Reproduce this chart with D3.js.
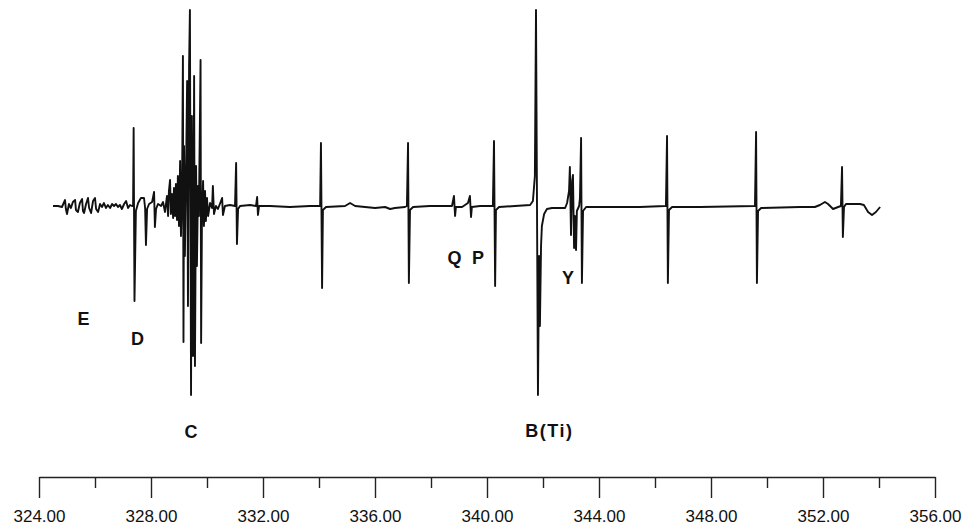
<!DOCTYPE html>
<html>
<head>
<meta charset="utf-8">
<script src="https://cdn.jsdelivr.net/npm/d3@7"></script>
<style>
  html, body { margin: 0; padding: 0; background: #fff; }
  svg { display: block; }
</style>
</head>
<body>
<svg id="chart" width="965" height="527"></svg>
<script>
// Magnetic field (mT) of each trace vertex
const field = [
  324.50,324.68,324.82,324.93,324.96,325.00,325.07,325.14,325.21,325.29,325.32,325.39,325.46,325.54,325.57,325.61,
  325.68,325.75,325.79,325.86,325.93,326.00,326.04,326.11,326.18,326.25,326.32,326.39,326.46,326.54,326.61,326.68,
  326.75,326.82,326.89,326.96,327.04,327.11,327.18,327.25,327.32,
  327.36,327.38,327.41,327.46,327.54,327.64,327.75,327.79,327.82,327.86,327.93,328.04,328.11,328.14,328.18,328.25,
  328.36,328.43,328.50,328.57,328.61,328.64,328.68,328.71,328.75,328.79,328.82,328.86,328.89,328.93,328.96,329.00,
  329.04,329.07,329.11,329.14,329.16,329.18,329.21,329.25,329.29,329.32,329.36,329.39,329.43,329.46,329.50,329.54,
  329.57,329.61,329.64,329.68,329.71,329.77,329.79,329.82,329.86,329.89,329.93,329.96,330.00,330.04,330.11,330.18,
  330.21,330.25,330.32,330.39,330.46,330.54,330.57,330.64,330.82,331.00,331.04,331.07,331.11,331.18,331.54,331.75,
  331.79,331.82,331.86,332.25,332.96,333.68,334.04,334.07,334.11,334.14,334.25,334.93,335.11,335.29,336.00,336.36,
  336.54,336.71,337.07,337.14,337.18,337.21,337.25,337.36,337.96,338.75,338.82,338.86,338.89,339.11,339.32,339.39,
  339.43,339.46,339.75,340.18,340.21,340.25,340.29,340.32,340.43,341.00,341.54,341.64,341.71,341.75,341.82,341.86,
  341.89,341.93,341.96,342.04,342.14,342.32,342.79,342.86,342.93,342.96,343.00,343.04,343.07,343.11,343.14,343.18,
  343.21,343.29,343.32,343.36,343.39,343.43,343.54,344.04,345.46,346.36,346.39,346.43,346.46,346.50,346.61,347.61,
  349.54,349.57,349.61,349.64,349.68,349.79,351.18,351.71,351.89,352.07,352.18,352.36,352.54,352.64,352.68,352.71,
  352.75,352.82,353.32,353.46,353.61,353.75,353.89,354.04
];
// First-derivative EPR signal (arbitrary units) at each vertex
const signal = [
  0,0,-1,6,-3,-8,2,-2,4,6,-4,-6,3,7,-5,-7,
  2,8,-2,-7,5,8,-3,-6,2,-1,3,-2,1,-2,2,0,
  2,-1,1,-3,2,5,-2,1,0,
  0,78,-95,-5,3,8,8,-2,-39,-3,2,4,14,-21,-3,2,
  0,4,-6,10,-10,15,26,-8,12,-12,18,-10,22,-14,30,-20,
  45,-30,20,150,-136,60,-50,30,125,-100,140,196,-189,90,-150,130,
  -160,40,-60,20,-10,146,-137,-10,25,-20,15,-15,8,-10,3,-2,
  20,-8,0,-3,2,8,-9,0,1,0,43,-38,-3,0,1,0,
  9,-9,0,0,-1,0,0,63,-82,-4,-1,0,3,0,-2,-1,
  -3,-2,-1,0,63,-77,-4,-1,0,0,10,-10,-1,-1,3,10,
  -11,-1,0,0,0,65,-80,-4,-1,0,1,5,30,196,-189,-50,
  -120,-40,-20,-8,-3,-2,-2,3,15,39,-29,25,31,-42,-10,-44,
  -5,0,8,68,-77,-5,-1,-1,-1,0,0,70,-77,-4,-1,-1,
  0,0,74,-77,-5,-2,-1,-1,1,4,2,-3,-1,0,39,-31,
  -1,2,2,1,-6,-9,-6,-1
];
// Axis ticks (minor every 2 mT, labelled every 4 mT)
const tickValues = [324,326,328,330,332,334,336,338,340,342,344,346,348,350,352,354,356];
const labelValues = [324,328,332,336,340,344,348,352,356];
// Line assignments
const labelText = ["E","D","C","Q","P","B(Ti)","Y"];
const labelField = [325.59,327.52,329.43,338.84,339.68,342.23,342.89];
const labelSignal = [-119,-139,-232,-58,-58,-231,-78];

const svg = d3.select("#chart");
const x = d3.scaleLinear().domain([324, 356]).range([39, 935]);
const y = d3.scaleLinear().domain([-200, 200]).range([406, 6]);

const pts = field.map((f, i) => [f, signal[i]]);
const line = d3.line().x(d => x(d[0])).y(d => y(d[1]));

svg.append("path")
  .datum(pts)
  .attr("d", line)
  .attr("fill", "none")
  .attr("stroke", "#111")
  .attr("stroke-width", 1.9)
  .attr("stroke-linejoin", "round");

// Axis
const axisY = 477;
const axis = d3.axisBottom(x)
  .tickValues(tickValues)
  .tickSizeOuter(0)
  .tickSizeInner(21)
  .tickFormat(d => labelValues.includes(d) ? d3.format(".2f")(d) : "");
const gAxis = svg.append("g").attr("transform", `translate(0,${axisY})`).call(axis);
gAxis.select(".domain").attr("stroke", "#222").attr("stroke-width", 1.4);
gAxis.selectAll(".tick line")
  .attr("stroke", "#222").attr("stroke-width", 1.4)
  .attr("y2", d => labelValues.includes(d) ? 21 : 11);
gAxis.selectAll(".tick text")
  .attr("y", 33)
  .attr("fill", "#111")
  .style("font-family", "Arial, 'Liberation Sans', sans-serif")
  .style("font-size", "17px");

// Labels
svg.append("g").selectAll("text")
  .data(labelText)
  .join("text")
  .attr("x", (d, i) => x(labelField[i]))
  .attr("y", (d, i) => y(labelSignal[i]))
  .attr("text-anchor", "middle")
  .attr("fill", "#111")
  .style("font-family", "Arial, 'Liberation Sans', sans-serif")
  .style("font-weight", "bold")
  .style("font-size", "18px")
  .style("letter-spacing", d => d.length > 1 ? "1.5px" : null)
  .text(d => d);
</script>
</body>
</html>
